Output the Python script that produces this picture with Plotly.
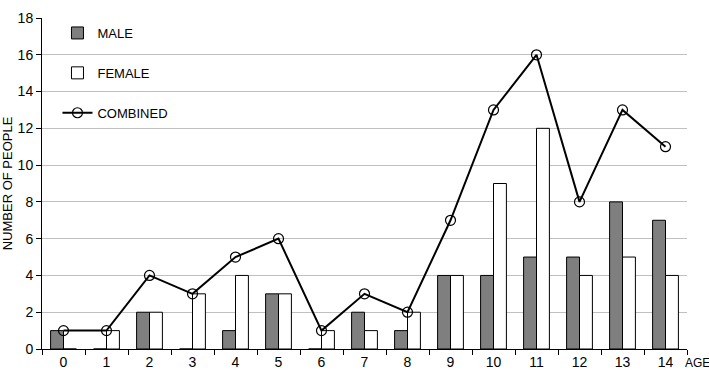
import plotly.graph_objects as go

ages = ["0", "1", "2", "3", "4", "5", "6", "7", "8", "9", "10", "11", "12", "13", "14"]
male = [1, 0, 2, 0, 1, 3, 0, 2, 1, 4, 4, 5, 5, 8, 7]
female = [0, 1, 2, 3, 4, 3, 1, 1, 2, 4, 9, 12, 4, 5, 4]
combined = [1, 1, 4, 3, 5, 6, 1, 3, 2, 7, 13, 16, 8, 13, 11]
y_ticks = [0, 2, 4, 6, 8, 10, 12, 14, 16, 18]

FONT = "Liberation Sans, Arial, sans-serif"

fig = go.Figure()
fig.add_trace(go.Bar(x=ages, y=male, name="MALE", legendgroup="m",
                     marker=dict(color="#7f7f7f", line=dict(color="black", width=1))))
fig.add_trace(go.Bar(x=ages, y=female, name="FEMALE", legendgroup="f",
                     marker=dict(color="white", line=dict(color="black", width=1))))
fig.add_trace(go.Scatter(x=ages, y=combined, name="COMBINED", legendgroup="c",
                         mode="lines+markers",
                         line=dict(color="black", width=2),
                         marker=dict(symbol="circle-open", size=10, color="black",
                                     line=dict(width=1.2))))

fig.update_layout(
    width=709, height=372,
    margin=dict(l=42, r=22, t=18, b=23),
    paper_bgcolor="white", plot_bgcolor="white",
    font=dict(family=FONT, size=13, color="black"),
    barmode="group", bargap=0.4, bargroupgap=0,
    showlegend=True,
    legend=dict(x=0.024, y=1.0, xanchor="left", yanchor="top",
                bgcolor="rgba(0,0,0,0)", tracegroupgap=20,
                font=dict(size=13, family=FONT)),
    xaxis=dict(type="category", range=[-0.5, 14.5], showline=True, linecolor="black",
               linewidth=1, ticks="outside", ticklen=5, tickcolor="black",
               tickson="boundaries", showgrid=False, automargin=False,
               tickfont=dict(size=14)),
    yaxis=dict(range=[0, 18], tickvals=y_ticks, showline=True, linecolor="black",
               linewidth=1, ticks="outside", ticklen=5, tickcolor="black",
               showgrid=True, gridcolor="#c0c0c0", gridwidth=1, zeroline=False,
               automargin=False, tickfont=dict(size=14),
               title=dict(text="NUMBER OF PEOPLE", font=dict(size=13), standoff=6)),
)
fig.add_annotation(text="AGE", x=1.0, y=0, xref="paper", yref="paper",
                   xanchor="left", yanchor="top", yshift=-5, xshift=-4,
                   showarrow=False, font=dict(size=12, family=FONT))

fig.write_html("out.html", config={"displayModeBar": False},
               post_script="document.body.style.margin='0';")
